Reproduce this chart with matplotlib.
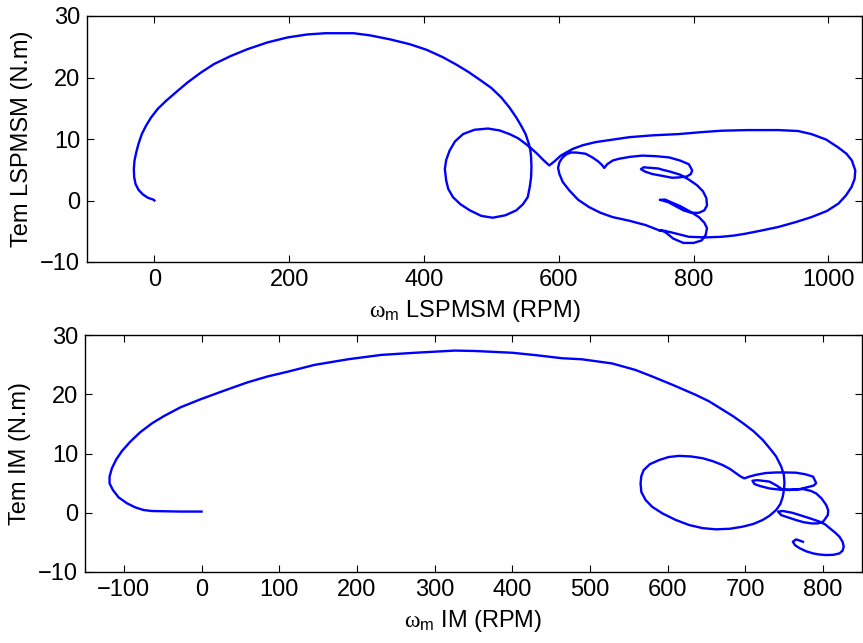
import numpy as np
import matplotlib
matplotlib.use('Agg')
import matplotlib.pyplot as plt

# rotor speed (RPM) and electromagnetic torque (N.m) trajectories
speed_pm = [0, -1, -9.8, -17.2, -23.6, -28, -30, -30.5, -29.5, -27, -23.6, -18.7, -12.2,
            -4.9, 5, 17.3, 32, 49.3, 69, 88.7, 113.4, 138, 167.6, 197, 226.7, 253.8,
            295.6, 320, 349.8, 379.4, 404, 428, 448, 466, 482, 500, 514.8, 527,
            537, 544, 550.8, 555.7, 558, 559, 559.5, 559, 557,
            554, 547, 537, 521, 502, 485, 468, 454, 443, 436, 433, 431, 433, 438, 446,
            458, 475, 495, 512, 527, 540, 551, 560, 568, 577, 586, 594, 603, 611, 621,
            636, 655, 680, 705, 740, 778, 810, 842, 880, 926, 955, 975, 997, 1015, 1027,
            1035, 1040, 1039, 1034.5, 1026, 1015, 998, 975, 952, 926, 900, 877, 860, 842,
            818, 793, 764, 749, 729, 705, 680, 662, 645, 629, 616, 606, 601, 599, 601,
            605, 611, 618, 626, 640, 650, 658, 664, 667.5, 672, 680, 690, 706, 724, 745,
            764, 780, 793, 798, 796, 790, 778, 768, 754, 739, 728, 722, 726, 737, 748,
            754, 765, 780, 793, 805, 814, 819, 820, 816, 808, 797, 785, 773, 763, 754,
            750, 758, 767, 780, 795, 808, 816, 820, 818, 812, 800, 785, 770, 761, 756,
            750, 758]
torque_pm = [0, 0.12, 0.45, 1.0, 1.74, 2.7, 3.8, 5.1, 6.5, 7.8, 9.2, 10.8, 12.2,
             13.5, 14.9, 16.2, 17.6, 19.2, 20.8, 22.2, 23.5, 24.6, 25.7, 26.5, 27.0, 27.2,
             27.2, 26.85, 26.2, 25.4, 24.5, 23.3, 22.1, 20.9, 19.7, 18.3, 16.75, 15.1,
             13.5, 12.2, 10.8, 9.2, 8.1, 7.0, 5.5, 3.8, 2.2,
             0.55, -0.6, -1.6, -2.4,
             -2.8, -2.5, -1.6, -0.6, 0.55, 1.9, 3.25, 5.1, 6.6, 8.1, 9.6, 10.8, 11.5,
             11.7, 11.4, 10.8, 10.1, 9.2, 8.4, 7.6, 6.6, 5.7, 6.4, 7.3, 7.8, 8.4, 9.0,
             9.5, 9.9, 10.3, 10.6, 10.8, 11.1, 11.35, 11.45, 11.45, 11.3, 10.8, 9.9, 8.6,
             7.6, 6.5, 4.9, 3.5, 2.2, 0.8, -0.5, -1.7, -2.7, -3.5, -4.3, -4.9, -5.4, -5.7,
             -5.9, -6.0, -5.9, -5.1, -4.85, -4.0, -3.3, -2.7, -2.0, -1.07, 0.1, 1.6, 3.0,
             4.3, 5.3, 6.2, 6.9, 7.5, 7.8, 7.8, 7.6, 7.0, 6.4, 5.8, 5.3, 5.9, 6.5, 6.8,
             7.1, 7.3, 7.2, 7.0, 6.5, 5.9, 4.9, 4.3, 3.9, 3.75, 3.7, 4.0, 4.3, 4.7, 5.1,
             5.4, 5.3, 5.2, 5.0, 4.7, 4.2, 3.4, 2.5, 1.5, 0.4, -0.8, -1.6, -2.0, -2.0,
             -1.6, -0.9, -0.3, 0.0, 0.1, 0.15, -0.3, -0.9, -1.8, -2.7, -3.6, -4.5, -5.6,
             -6.5, -6.9, -6.9, -6.2, -5.4, -5.0, -4.9, -4.95]

speed_im = [0, -10, -27, -45, -63.7, -74.5, -85.2, -96, -106.8, -114.1, -118.4, -118.4,
            -115.4, -109.8, -102.5, -91.7, -78.8, -63.7, -48.6, -27, -1.3, 28.9, 59,
            84.9, 110.7, 145.2, 188.3, 231.3, 274.4, 326, 352, 400, 430, 463.8, 489.6,
            528.4, 558.5, 580, 606, 636, 653.3, 670.5, 684, 697, 710, 722.2, 733,
            739.5, 746, 749.4, 750.2, 749.5, 748, 745, 739.5, 731, 722, 710,
            696, 680, 662, 645, 627.5, 610, 593, 580, 571.5, 566, 565, 566, 569, 577,
            589, 601, 614.5, 630, 645, 658, 670.5, 680, 688, 694, 698.5, 705, 713.6, 726,
            739.5, 752, 765, 777, 787, 791, 788, 782.5, 770, 757, 744, 731, 719, 711.5,
            709, 715, 722, 731, 740, 748, 760, 774, 784, 791, 798, 804, 806.5, 806, 800,
            793, 785, 775, 765, 755, 746, 742, 748, 752, 760, 770, 782, 795.5, 803,
            808.4, 815, 821, 825, 826.5, 825, 821, 813, 804, 795, 787, 778, 770, 764,
            761, 765, 770, 774]
torque_im = [0.2, 0.2, 0.2, 0.25, 0.29, 0.46, 0.9, 1.6, 2.6, 3.84, 4.96, 6.09,
             7.5, 9.0, 10.4, 12.0, 13.6, 15.1, 16.3, 17.8, 19.15, 20.6, 22.0,
             23.0, 23.8, 24.95, 25.9, 26.64, 27.0, 27.37, 27.3, 27.0, 26.6, 26.08, 25.9,
             25.2, 24.1, 23.0, 21.6, 19.9, 18.8, 17.4, 16.3, 15.1, 13.8, 12.3, 10.6,
             9.5, 7.8, 6.4, 5.0, 3.8, 2.7, 1.5,
             0.46, -0.5, -1.23, -1.9, -2.36, -2.7, -2.8, -2.6, -2.07, -1.2, -0.1, 1.0,
             2.15, 3.5, 5.0, 6.2, 7.2, 8.2, 8.9, 9.4, 9.6, 9.5, 9.2, 8.7, 8.06, 7.4,
             6.65, 6.1, 5.8, 6.1, 6.4, 6.7, 6.8, 6.8, 6.76, 6.5, 6.1, 5.0, 4.6, 4.4, 4.0,
             3.84, 3.9, 4.1, 4.5, 4.85, 5.4, 5.5, 5.4, 5.25, 4.6, 3.9, 3.9, 4.0, 3.7,
             3.27, 2.4, 1.3, 0.4, -0.4, -1.5, -1.8, -1.8, -1.6, -1.23, -0.8, -0.4, 0.18,
             0.3, 0.2, 0.0, -0.4, -0.9, -1.5, -2.0, -2.6, -3.3, -4.05, -4.9, -5.7, -6.4,
             -6.86, -7.1, -7.14, -7.05, -6.86, -6.5, -6.0, -5.5, -4.9, -4.5, -4.7, -4.9]

xticks_pm = [0, 200, 400, 600, 800, 1000]
xticks_im = [-100, 0, 100, 200, 300, 400, 500, 600, 700, 800]
yticks = [-10, 0, 10, 20, 30]

plt.rcParams['font.family'] = ['Liberation Sans', 'DejaVu Sans']
plt.rcParams['mathtext.fontset'] = 'custom'
plt.rcParams['mathtext.rm'] = 'Liberation Sans'
plt.rcParams['mathtext.it'] = 'Liberation Serif'
plt.rcParams['font.size'] = 17

fig = plt.figure(figsize=(8.63, 6.43), dpi=100)
ax1 = fig.add_axes([87 / 863, 1 - 262 / 643, 775 / 863, 246 / 643])
ax2 = fig.add_axes([85 / 863, 1 - 572 / 643, 777 / 863, 237 / 643])


def style_axes(ax, xlim, xticks):
    ax.set_xlim(*xlim)
    ax.set_ylim(-10, 30)
    ax.set_xticks(xticks)
    ax.set_yticks(yticks)
    ax.tick_params(direction='in', top=True, right=True, length=5, width=0.8,
                   labelsize=17, pad=5)
    for sp in ax.spines.values():
        sp.set_linewidth(1.0)


ax1.plot(speed_pm, torque_pm, color='#0000ff', lw=1.7)
style_axes(ax1, (-100, 1050), xticks_pm)
ax1.set_xlabel(r'$\omega_{\rm m}$ LSPMSM (RPM)', labelpad=5)
ax1.set_ylabel('Tem LSPMSM (N.m)', labelpad=5)

ax2.plot(speed_im, torque_im, color='#0000ff', lw=1.7)
style_axes(ax2, (-150, 850), xticks_im)
ax2.set_xlabel(r'$\omega_{\rm m}$ IM (RPM)', labelpad=5)
ax2.set_ylabel('Tem IM (N.m)', labelpad=5)

fig.savefig('out.png', dpi=100)
